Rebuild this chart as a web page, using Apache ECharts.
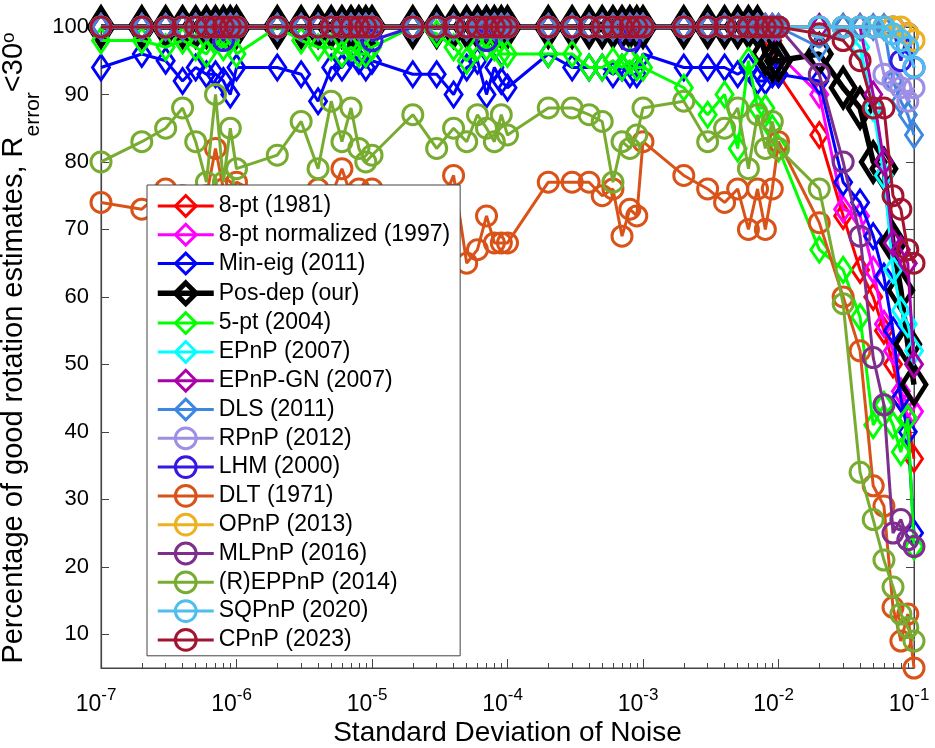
<!DOCTYPE html>
<html><head><meta charset="utf-8">
<script src="https://cdn.jsdelivr.net/npm/echarts@6/dist/echarts.min.js"></script>
<style>html,body{margin:0;padding:0;background:#fff}#c{width:935px;height:748px}</style>
</head><body><div id="c"></div>
<script>
// Noise levels (x)
const xNoise = [
  1e-7,2e-7,3e-7,4e-7,5e-7,6e-7,7e-7,8e-7,9e-7,
  1e-6,2e-6,3e-6,4e-6,5e-6,6e-6,7e-6,8e-6,9e-6,
  1e-5,2e-5,3e-5,4e-5,5e-5,6e-5,7e-5,8e-5,9e-5,
  1e-4,2e-4,3e-4,4e-4,5e-4,6e-4,7e-4,8e-4,9e-4,
  1e-3,2e-3,3e-3,4e-3,5e-3,6e-3,7e-3,8e-3,9e-3,
  1e-2,2e-2,3e-2,4e-2,5e-2,6e-2,7e-2,8e-2,9e-2,
  1e-1];

const eightPt = [
  100,100,100,100,100,100,100,100,100,
  100,100,100,100,100,100,100,100,100,
  100,100,100,100,100,100,100,100,100,
  100,100,100,100,100,100,100,100,100,
  100,100,100,100,100,100,100,100,98,
  93,84,72,64,60,55,50,45,42,
  36];
const eightPtNorm = [
  100,100,100,100,100,100,100,100,100,
  100,100,100,100,100,100,100,100,100,
  100,100,100,100,100,100,100,100,100,
  100,100,100,100,100,100,100,100,100,
  100,100,100,100,100,100,100,100,100,
  96,90,73,72,64,56,52,46,44,
  43];
const minEig = [
  94,96,95,92,94,93,93,92,90,
  94,94,93,89,94,94,96,95,94,
  95,93,93,90,94,95,90,94,92,
  91,96,94,94,94,93,94,93,93,
  96,94,94,94,93,94,92,92,93,
  93,92,77,74,69,63,55,45,40,
  25];
const posDep = [
  100,100,100,100,100,100,100,100,100,
  100,100,100,100,100,100,100,100,100,
  100,100,100,100,100,100,100,100,100,
  100,100,100,100,100,100,100,100,100,
  100,100,100,100,100,100,100,96,95,
  95,96,91,88,80,79,68,61,53,
  47];
const fivePt = [
  98,98,97,98,97,96,98,97,98,
  96,100,98,97,97,96,97,96,96,
  97,100,99,97,95,97,97,97,96,
  96,96,96,94,94,95,94,95,94,
  94,91,87,90,82,95,88,88,85,
  82,67,64,57,41,44,41,37,42,
  23];
const ePnP = [
  100,100,100,100,100,100,100,100,100,
  100,100,100,100,100,100,100,100,100,
  100,100,100,100,100,100,100,100,100,
  100,100,100,100,100,100,100,100,100,
  100,100,100,100,100,100,100,100,100,
  100,100,100,97,88,78,64,58,56,
  52];
const ePnPGN = [
  100,100,100,100,100,100,100,100,100,
  100,100,100,100,100,100,100,100,100,
  100,100,100,100,100,100,100,100,100,
  100,100,100,100,100,100,100,100,100,
  100,100,100,100,100,100,100,100,100,
  100,100,100,100,90,80,68,67,65,
  50];
const dls = [
  100,100,100,100,100,100,100,100,100,
  100,100,100,100,100,100,100,100,100,
  100,100,100,100,100,100,100,100,100,
  100,100,100,100,100,100,100,100,100,
  100,100,100,100,100,100,100,100,100,
  100,97,100,100,100,100,92,89,87,
  84];
const rPnP = [
  100,100,100,100,100,100,100,100,100,
  100,100,100,100,100,100,100,100,100,
  100,100,100,100,100,100,100,100,100,
  100,100,100,100,100,100,100,100,100,
  100,100,100,100,100,100,100,100,100,
  100,100,100,100,100,93,92,91,89,
  91];
const lhm = [
  100,100,100,100,100,100,100,98,100,
  100,100,100,100,100,100,100,100,100,
  98,100,100,100,100,100,98,100,100,
  100,100,100,100,100,100,100,98,100,
  100,100,100,100,100,100,100,100,100,
  100,100,100,100,100,100,100,95,99,
  94];
const dlt = [
  74,73,76,75,74,75,82,76,75,
  77,74,74,76,75,79,75,76,75,
  76,71,72,78,65,67,72,68,68,
  68,77,77,77,75,76,69,73,72,
  83,78,76,74,76,70,76,70,76,
  83,71,60,52,32,29,14,9,13,
  5];
const oPnP = [
  100,100,100,100,100,100,100,100,100,
  100,100,100,100,100,100,100,100,100,
  100,100,100,100,100,100,100,100,100,
  100,100,100,100,100,100,100,100,100,
  100,100,100,100,100,100,100,100,100,
  100,100,100,100,100,100,100,100,99,
  98];
const mlPnP = [
  100,100,100,100,100,100,100,100,100,
  100,100,100,100,100,100,100,100,100,
  100,100,100,100,100,100,100,100,100,
  100,100,100,100,100,100,100,100,100,
  100,100,100,100,100,100,100,100,100,
  100,93,80,69,51,44,25,27,24,
  23];
const rEPPnP = [
  80,83,85,88,83,77,90,77,85,
  79,81,86,79,89,83,88,82,80,
  81,87,82,85,83,87,85,83,87,
  84,88,88,87,86,77,83,82,84,
  88,89,83,85,88,79,87,82,86,
  82,76,59,34,27,21,17,13,11,
  9];
const sqPnP = [
  100,100,100,100,100,100,100,100,100,
  100,100,100,100,100,100,100,100,100,
  100,100,100,100,100,100,100,100,100,
  100,100,100,100,100,100,100,100,100,
  100,100,100,100,100,100,100,100,100,
  100,100,100,100,100,100,99,98,97,
  94];
const cPnP = [
  100,100,100,100,100,100,100,100,100,
  100,100,100,100,100,100,100,100,100,
  100,100,100,100,100,100,100,100,100,
  100,100,100,100,100,100,100,100,100,
  100,100,100,100,100,100,100,100,100,
  100,99,98,95,88,88,75,73,67,
  65];

const yTickValues = [10,20,30,40,50,60,70,80,90,100];
const minorMantissas = [2,3,4,5,6,7,8,9];

const FONT = "'Liberation Sans', Arial, Helvetica, sans-serif";

const seriesDefs = [
  {name:'8-pt (1981)', color:'#FF0000', symbol:'diamond', values: eightPt},
  {name:'8-pt normalized (1997)', color:'#FF00FF', symbol:'diamond', values: eightPtNorm},
  {name:'Min-eig (2011)', color:'#0000FF', symbol:'diamond', values: minEig},
  {name:'Pos-dep (our)', color:'#000000', symbol:'diamond', values: posDep, bold:true},
  {name:'5-pt (2004)', color:'#00FF00', symbol:'diamond', values: fivePt},
  {name:'EPnP (2007)', color:'#00FFFF', symbol:'diamond', values: ePnP},
  {name:'EPnP-GN (2007)', color:'#AA00AA', symbol:'diamond', values: ePnPGN},
  {name:'DLS (2011)', color:'#3C87E0', symbol:'diamond', values: dls},
  {name:'RPnP (2012)', color:'#9E8EE6', symbol:'circle', values: rPnP},
  {name:'LHM (2000)', color:'#3519E3', symbol:'circle', values: lhm},
  {name:'DLT (1971)', color:'#D95319', symbol:'circle', values: dlt},
  {name:'OPnP (2013)', color:'#EDB120', symbol:'circle', values: oPnP},
  {name:'MLPnP (2016)', color:'#7E2F8E', symbol:'circle', values: mlPnP},
  {name:'(R)EPPnP (2014)', color:'#77AC30', symbol:'circle', values: rEPPnP},
  {name:'SQPnP (2020)', color:'#4DBEEE', symbol:'circle', values: sqPnP},
  {name:'CPnP (2023)', color:'#A2142F', symbol:'circle', values: cPnP}
];

// minor tick positions (log10 of 2..9 x 10^k) for the helper axis
const minorTicks = [];
for (let k = -7; k < -1; k++) {
  minorMantissas.forEach(m => minorTicks.push(k + Math.log10(m)));
}

const series = seriesDefs.map((s, i) => ({
  type: 'line',
  name: s.name,
  xAxisIndex: 0, yAxisIndex: 0,
  data: xNoise.map((x, j) => [x, s.values[j]]),
  symbol: s.symbol,
  symbolSize: s.symbol === 'diamond' ? (s.bold ? [24, 38] : [17, 25]) : 20,
  showSymbol: true, showAllSymbol: true,
  clip: false, z: 2 + i, silent: true, animation: false,
  lineStyle: {color: s.color, width: s.bold ? 5.5 : 3},
  itemStyle: {color: 'rgba(255,255,255,0)', borderColor: s.color, borderWidth: s.bold ? 5 : 3},
  emphasis: {disabled: true}
}));

const chart = echarts.init(document.getElementById('c'), null, {renderer: 'canvas'});
chart.setOption({
  animation: false,
  backgroundColor: '#fff',
  textStyle: {fontFamily: FONT},
  grid: {left: 101, right: 21, top: 27, bottom: 80, containLabel: false, outerBoundsMode: 'none',
         show: true, borderColor: '#444', borderWidth: 1, backgroundColor: 'rgba(0,0,0,0)'},
  xAxis: [
    {
      type: 'log', logBase: 10, min: 1e-7, max: 1e-1, interval: 1, position: 'bottom',
      axisLine: {show: true, lineStyle: {color: '#444', width: 1.2}},
      axisTick: {show: true, inside: true, length: 9, lineStyle: {color: '#444'}},
      splitLine: {show: false}, minorTick: {show: false},
      axisLabel: {
        margin: 25, padding: [0, 10, 0, 0], color: '#000',
        formatter: v => '{b|10}{s|' + Math.round(Math.log10(v)) + '}',
        rich: {
          b: {fontSize: 23, lineHeight: 23, fontFamily: FONT, color: '#000'},
          s: {fontSize: 17, lineHeight: 17, padding: [0, 0, 18, 0], fontFamily: FONT, color: '#000'}
        }
      },
      name: 'Standard Deviation of Noise', nameLocation: 'middle', nameGap: 51, nameMoveOverlap: false,
      nameTextStyle: {fontSize: 28, color: '#000', fontFamily: FONT}
    },
    {
      type: 'value', min: -7, max: -1, position: 'bottom',
      axisLine: {show: false}, axisLabel: {show: false}, splitLine: {show: false},
      axisTick: {show: true, inside: true, length: 5, customValues: minorTicks, lineStyle: {color: '#444'}}
    }
  ],
  yAxis: [
    {
      type: 'value', min: 5, max: 100, position: 'left',
      axisLine: {show: true, lineStyle: {color: '#444', width: 1.2}},
      axisTick: {show: true, inside: true, length: 8, customValues: yTickValues, lineStyle: {color: '#444'}},
      axisLabel: {customValues: yTickValues, fontSize: 22, color: '#000', margin: 12, fontFamily: FONT},
      splitLine: {show: false}
    },
    {
      type: 'value', min: 5, max: 100, position: 'right',
      axisLine: {show: true, lineStyle: {color: '#444', width: 1}},
      axisTick: {show: true, inside: true, length: 8, customValues: yTickValues, lineStyle: {color: '#444'}},
      axisLabel: {show: false}, splitLine: {show: false}
    }
  ],
  legend: {
    orient: 'vertical', left: 147, top: 185,
    itemWidth: 56, itemHeight: 26, itemGap: 5,
    padding: [9, 10, 4, 8],
    backgroundColor: '#fff', borderColor: '#444', borderWidth: 1,
    textStyle: {fontSize: 23, color: '#000', fontFamily: FONT},
    itemStyle: {borderWidth: 3},
    lineStyle: {width: 3},
    selectedMode: false, z: 50,
    data: seriesDefs.map(s => s.bold
      ? {name: s.name, itemStyle: {borderWidth: 5}, lineStyle: {width: 5.5}}
      : {name: s.name})
  },
  graphic: [{
    type: 'text', x: 14, y: 348, rotation: Math.PI / 2, z: 60,
    style: {
      text: '{m|Percentage of good rotation estimates, R}{sub|error}{m|<30}{sup|o}',
      align: 'center', verticalAlign: 'middle', fill: '#000',
      rich: {
        m: {fontSize: 29, lineHeight: 30, fontFamily: FONT, fill: '#000'},
        sub: {fontSize: 21, lineHeight: 21, padding: [38, 0, 0, 0], fontFamily: FONT, fill: '#000'},
        sup: {fontSize: 19, lineHeight: 19, padding: [0, 0, 10, 0], fontFamily: FONT, fill: '#000'}
      }
    }
  }],
  series: series
});
</script>
</body></html>
